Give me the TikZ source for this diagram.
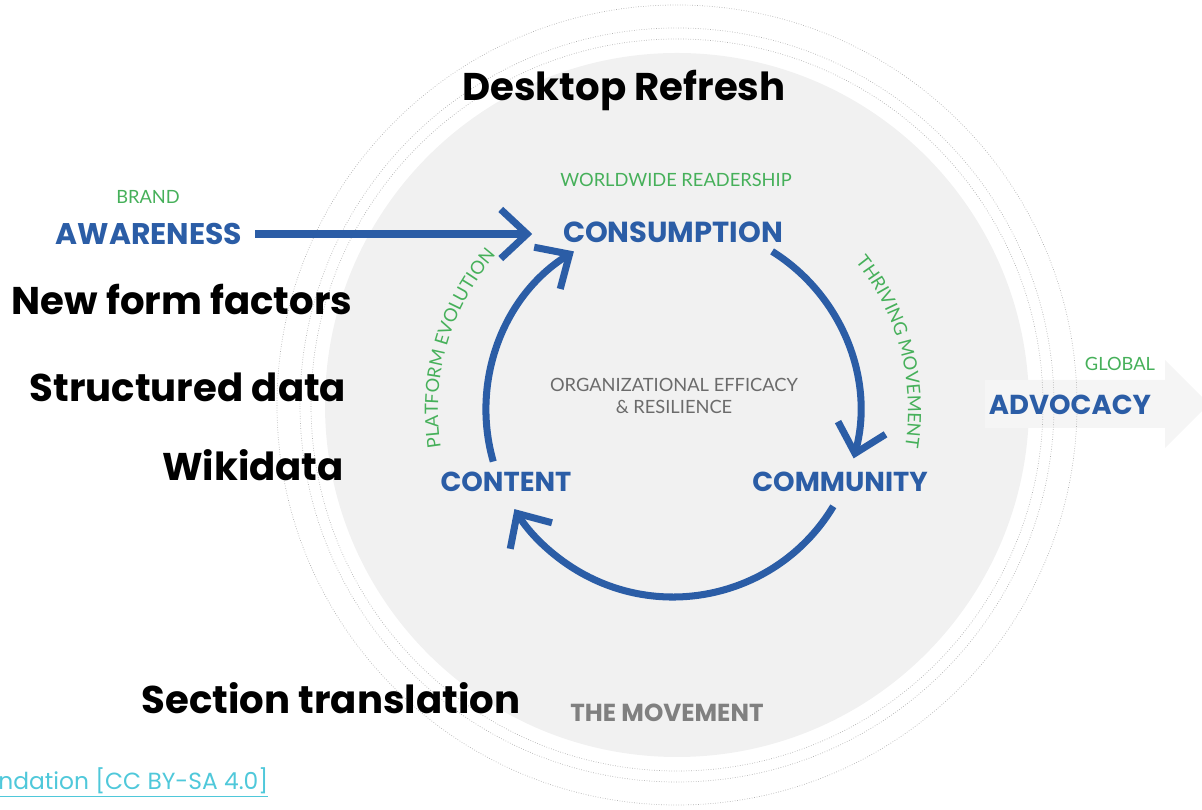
\documentclass[tikz,border=0pt]{standalone}
\usepackage{fontspec}
\usepackage{tikz}
\usetikzlibrary{positioning}
\usetikzlibrary{arrows.meta}
\usetikzlibrary{decorations.text}
\newfontfamily\mont{Poppins}
\newfontfamily\lato{Lato}
\definecolor{wmblue}{HTML}{2B5DA6}
\definecolor{wmgreen}{HTML}{46B05A}
\definecolor{wmgrey}{HTML}{F1F1F1}
\definecolor{wmlink}{HTML}{4FC8DA}

\begin{document}
\begin{tikzpicture}[x=0.02cm,y=0.02cm,
 big/.style={font=\mont\bfseries\fontsize{22}{26}\selectfont,text=black},
 stage/.style={font=\mont\bfseries\fontsize{15.6}{18}\selectfont,text=wmblue},
 tag/.style={font=\lato\fontsize{10.4}{12}\selectfont,text=wmgreen},
 flow/.style={draw=wmblue,line width=4pt,-{Straight Barb[length=15pt,width=28pt]}},
 ring/.style={draw=black!30,densely dotted,line width=0.4pt}]
 \useasboundingbox (0,0) rectangle (1202,810);
 % the movement
 \fill[wmgrey] (677,405) circle (352);
 \fill[black!4] (985,382)--(1165,382)--(1165,362)--(1209,406)--(1165,450)--(1165,430)--(985,430)--cycle;
 \draw[ring] (677,405) circle (366);
 \draw[ring] (677,405) circle (377);
 \draw[ring] (677,405) circle (400);
 % labels
 \node[big] (desktop) at (624,719) {Desktop Refresh};
 \node[big] (formfactors) at (182,510) {New form factors};
 \node[big] (structured) at (188,423) {Structured data};
 \node[big] (wikidata) at (253,345) {Wikidata};
 \node[big] (section) at (331,112) {Section translation};
 \node[tag] (brand) at (148,613) {BRAND};
 \node[stage,font=\mont\bfseries\fontsize{17}{20}\selectfont] (awareness) at (149,576) {AWARENESS};
 \node[tag] (readers) at (676,630) {WORLDWIDE READERSHIP};
 \node[stage,font=\mont\bfseries\fontsize{16.5}{19}\selectfont] (consumption) at (673,578) {CONSUMPTION};
 \node[stage] (content) at (506,328) {CONTENT};
 \node[stage] (community) at (840,328) {COMMUNITY};
 \node[tag] (global) at (1120,446) {GLOBAL};
 \node[stage] (advocacy) at (1070,405) {ADVOCACY};
 \node[font=\lato\fontsize{10.4}{12}\selectfont,text=black!58,align=center] (efficacy) at (674,414) {ORGANIZATIONAL EFFICACY\\\& RESILIENCE};
 \node[font=\mont\bfseries\fontsize{14}{16}\selectfont,text=black!50] (movement) at (667,97) {THE MOVEMENT};
 \node[font=\mont\fontsize{13.3}{15}\selectfont,text=wmlink,anchor=west,inner sep=0] (credit) at (-2,27) {\underline{ndation [CC BY-SA 4.0]}};
 % cycle
 \coordinate (cyc) at (673,400);
 \draw[flow,shorten <=4pt,shorten >=14pt] (awareness.east) -- (awareness.east -| consumption.west);
 \draw[flow] ([shift={(196:187)}]cyc) arc[start angle=196,end angle=122,radius=187];
 \draw[flow] ([shift={(58:187)}]cyc) arc[start angle=58,end angle=-15,radius=187];
 \draw[flow] ([shift={(-31:187)}]cyc) arc[start angle=-31,end angle=-148,radius=187];
 \path[decorate,decoration={text along path,text align=center,text color=wmgreen,
   text={|\lato\fontsize{10.4}{12}\selectfont|PLATFORM EVOLUTION}}]
   ([shift={(200:235)}]cyc) arc[start angle=200,end angle=128,radius=235];
 \path[decorate,decoration={text along path,text align=center,text color=wmgreen,
   text={|\lato\fontsize{10.4}{12}\selectfont|THRIVING MOVEMENT}}]
   ([shift={(50:235)}]cyc) arc[start angle=50,end angle=-20,radius=235];
\end{tikzpicture}
\end{document}
